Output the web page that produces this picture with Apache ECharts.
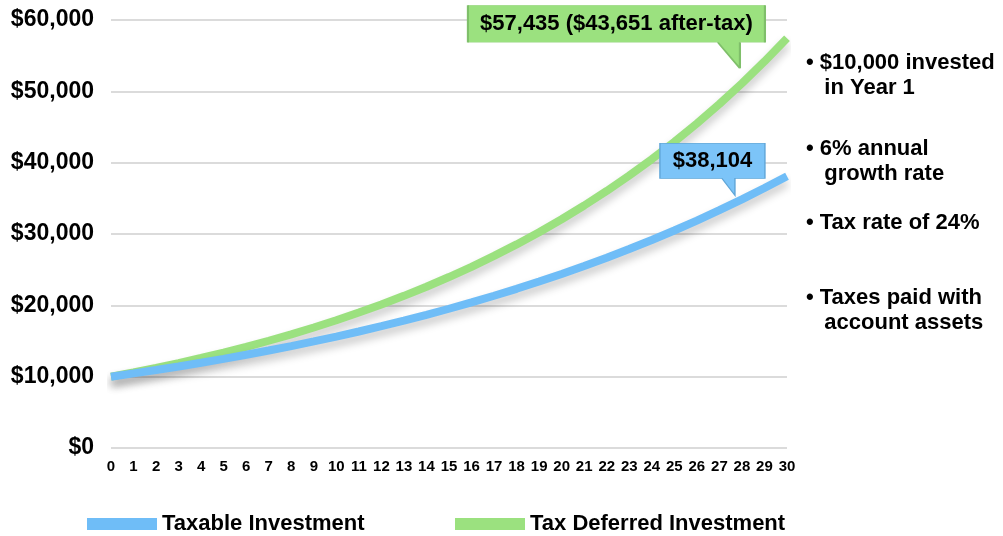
<!DOCTYPE html>
<html lang="en" style="height: 100%">
<head>
  <meta charset="utf-8">
</head>
<body style="height: 100%; margin: 0; background: #fff">
  <div id="container" style="height: 100%"></div>

  <script type="text/javascript" src="https://cdn.jsdelivr.net/npm/echarts@6/dist/echarts.min.js"></script>

  <script type="text/javascript">
    var dom = document.getElementById('container');
    var myChart = echarts.init(dom, null, { renderer: 'canvas' });
    var option;

    // years 0..30
    const years = [0, 1, 2, 3, 4, 5, 6, 7, 8, 9, 10, 11, 12, 13, 14, 15, 16, 17, 18, 19, 20,
      21, 22, 23, 24, 25, 26, 27, 28, 29, 30];
    const taxable = [10000, 10456, 10933, 11432, 11953, 12498, 13068, 13664, 14288, 14939, 15620,
      16333, 17078, 17856, 18671, 19522, 20413, 21344, 22317, 23335, 24399,
      25512, 26675, 27891, 29163, 30493, 31884, 33338, 34858, 36447, 38104];
    const deferred = [10000, 10600, 11236, 11910, 12625, 13382, 14185, 15036, 15938, 16895, 17908,
      18983, 20122, 21329, 22609, 23966, 25404, 26928, 28543, 30256, 32071,
      33996, 36035, 38197, 40489, 42919, 45494, 48223, 51117, 54184, 57435];
    const notes = [
      '• $10,000 invested\n   in Year 1',
      '• 6% annual\n   growth rate',
      '• Tax rate of 24%',
      '• Taxes paid with\n   account assets'
    ];
    const noteTops = [50, 136, 210, 285];
    const calloutYear = 28;
    const deferredCallout = '$57,435 ($43,651 after-tax)';
    const taxableCallout = '$38,104';

    const blue = '#6fbdf7';
    const green = '#9be17f';
    const font = 'Liberation Sans, Arial, Helvetica, sans-serif';

    function pairs(vals) {
      return years.map(function (y, i) { return [y, vals[i]]; });
    }

    const shadow = {
      shadowColor: 'rgba(0,0,0,0.22)',
      shadowBlur: 8,
      shadowOffsetY: 6
    };

    const bigText = { fontFamily: font, fontWeight: 'bold', fontSize: 22, color: '#000' };

    option = {
      backgroundColor: '#fff',
      animation: false,
      grid: { left: 111, right: 216, top: 20, bottom: 88 },
      xAxis: {
        type: 'value',
        min: 0,
        max: 30,
        interval: 1,
        axisLine: { show: false },
        axisTick: { show: false },
        splitLine: { show: false },
        axisLabel: { fontFamily: font, fontWeight: 'bold', fontSize: 15, color: '#000', margin: 11 }
      },
      yAxis: {
        type: 'value',
        min: 0,
        max: 60000,
        interval: 10000,
        axisLine: { show: false },
        axisTick: { show: false },
        splitLine: { lineStyle: { color: '#cfcfcf', width: 1.5 } },
        axisLabel: {
          fontFamily: font, fontWeight: 'bold', fontSize: 23, color: '#000', margin: 17,
          formatter: function (v) { return '$' + v.toLocaleString('en-US'); }
        }
      },
      legend: [
        {
          left: 82, top: 508, itemWidth: 70, itemHeight: 12, icon: 'rect',
          data: ['Taxable Investment'],
          textStyle: bigText
        },
        {
          left: 450, top: 508, itemWidth: 70, itemHeight: 12, icon: 'rect',
          data: ['Tax Deferred Investment'],
          textStyle: bigText
        }
      ],
      graphic: notes.map(function (t, i) {
        return {
          type: 'text',
          left: 806,
          top: noteTops[i],
          style: { text: t, fill: '#000', font: 'bold 22px ' + font, lineHeight: 25 }
        };
      }),
      series: [
        {
          name: 'Tax Deferred Investment',
          type: 'line',
          showSymbol: false,
          color: green,
          lineStyle: Object.assign({ width: 8, color: green }, shadow),
          data: pairs(deferred),
          markPoint: {
            silent: true,
            data: [{
              coord: [calloutYear, deferred[calloutYear]],
              symbol: 'path://M0 0 L297 0 L297 37 L272 37 L272 63 L250 37 L0 37 Z',
              symbolSize: [297, 63],
              symbolKeepAspect: false,
              symbolOffset: [-125.5, -46.5],
              itemStyle: { color: green, borderColor: '#7fbf6a', borderWidth: 1 },
              label: Object.assign({ show: true, formatter: deferredCallout, offset: [0, -13] }, bigText)
            }]
          }
        },
        {
          name: 'Taxable Investment',
          type: 'line',
          showSymbol: false,
          color: blue,
          lineStyle: Object.assign({ width: 8, color: blue }, shadow),
          data: pairs(taxable),
          markPoint: {
            silent: true,
            data: [{
              coord: [calloutYear, taxable[calloutYear]],
              symbol: 'path://M0 0 L105 0 L105 35 L75 35 L75 52 L62 35 L0 35 Z',
              symbolSize: [105, 52],
              symbolKeepAspect: false,
              symbolOffset: [-29.5, -30],
              itemStyle: { color: '#7cc4f8', borderColor: '#5fa6d8', borderWidth: 1 },
              label: Object.assign({ show: true, formatter: taxableCallout, offset: [0, -8.5] }, bigText)
            }]
          }
        }
      ]
    };

    myChart.setOption(option);
    window.addEventListener('resize', myChart.resize);
  </script>
</body>
</html>
